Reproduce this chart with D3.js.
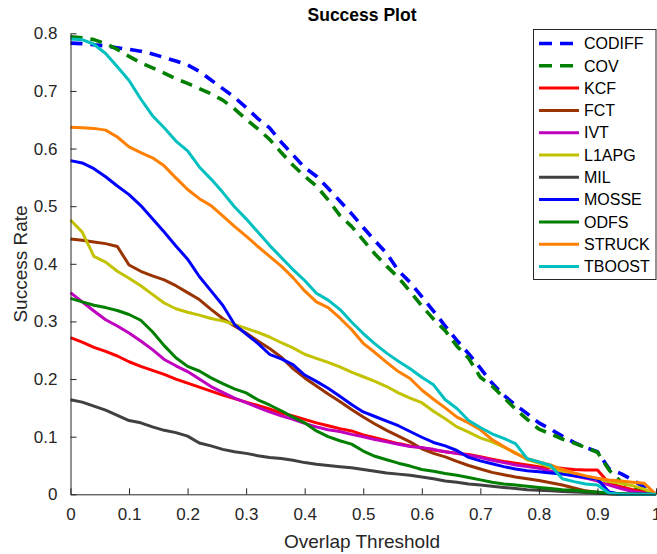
<!DOCTYPE html>
<html>
<head>
<meta charset="utf-8">
<script src="https://cdn.jsdelivr.net/npm/d3@7/dist/d3.min.js"></script>
<style>
  html, body { margin: 0; padding: 0; background: #fff; }
  svg { display: block; font-family: "Liberation Sans", Arial, Helvetica, sans-serif; }
</style>
</head>
<body>
<svg id="chart" width="657" height="554"></svg>
<script>
// Overlap thresholds on the x axis (0 to 1 in steps of 0.02)
const thresholds = d3.range(0, 51).map(i => i / 50);

const trackers = ["CODIFF", "COV", "KCF", "FCT", "IVT", "L1APG", "MIL", "MOSSE", "ODFS", "STRUCK", "TBOOST"];
const colors = ["#0000ff", "#007f00", "#ff0000", "#993300", "#bf00bf", "#c2c200", "#404040", "#0000ff", "#007f00", "#ff8000", "#00bfbf"];
const dashed = [true, true, false, false, false, false, false, false, false, false, false];

// Success rate of each tracker at every threshold
const CODIFF = [0.783,0.782,0.780,0.778,0.775,0.772,0.769,0.764,0.758,0.752,0.745,0.734,0.719,0.704,0.689,0.671,0.652,0.636,0.611,0.589,0.567,0.552,0.531,0.509,0.487,0.463,0.440,0.418,0.388,0.368,0.343,0.318,0.292,0.267,0.244,0.219,0.193,0.172,0.155,0.140,0.124,0.113,0.101,0.090,0.081,0.074,0.044,0.036,0.025,0.012,0.000];
const COV = [0.794,0.792,0.789,0.782,0.772,0.760,0.749,0.740,0.731,0.721,0.713,0.704,0.695,0.684,0.669,0.651,0.634,0.616,0.593,0.571,0.552,0.535,0.511,0.484,0.465,0.441,0.417,0.396,0.376,0.352,0.327,0.304,0.284,0.257,0.236,0.203,0.188,0.168,0.148,0.130,0.113,0.105,0.096,0.089,0.081,0.073,0.042,0.022,0.010,0.004,0.000];
const KCF = [0.272,0.264,0.255,0.248,0.240,0.230,0.222,0.215,0.208,0.200,0.193,0.186,0.179,0.172,0.166,0.160,0.154,0.148,0.141,0.136,0.130,0.124,0.119,0.114,0.110,0.103,0.098,0.093,0.088,0.084,0.081,0.077,0.074,0.071,0.069,0.065,0.061,0.057,0.054,0.051,0.048,0.046,0.045,0.043,0.042,0.042,0.019,0.013,0.008,0.004,0.000];
const FCT = [0.443,0.441,0.438,0.435,0.430,0.398,0.387,0.379,0.372,0.362,0.350,0.338,0.321,0.305,0.292,0.280,0.266,0.253,0.238,0.218,0.202,0.188,0.174,0.161,0.147,0.134,0.122,0.111,0.101,0.091,0.079,0.071,0.065,0.057,0.050,0.044,0.038,0.034,0.030,0.027,0.024,0.020,0.016,0.011,0.006,0.003,0.001,0.000,0.000,0.000,0.000];
const IVT = [0.350,0.334,0.318,0.303,0.292,0.280,0.266,0.251,0.234,0.223,0.213,0.200,0.187,0.177,0.167,0.159,0.151,0.143,0.136,0.130,0.123,0.117,0.112,0.109,0.104,0.100,0.095,0.091,0.087,0.083,0.081,0.078,0.074,0.071,0.068,0.064,0.059,0.055,0.051,0.048,0.045,0.040,0.036,0.032,0.028,0.023,0.016,0.010,0.005,0.002,0.000];
const L1APG = [0.476,0.455,0.413,0.403,0.387,0.375,0.362,0.347,0.332,0.322,0.316,0.311,0.305,0.301,0.295,0.288,0.281,0.273,0.263,0.254,0.243,0.236,0.229,0.221,0.212,0.204,0.196,0.187,0.176,0.167,0.159,0.144,0.131,0.117,0.108,0.098,0.091,0.082,0.072,0.060,0.054,0.047,0.040,0.034,0.030,0.026,0.022,0.019,0.015,0.009,0.000];
const MIL = [0.164,0.160,0.153,0.146,0.137,0.128,0.124,0.117,0.111,0.107,0.101,0.089,0.084,0.078,0.074,0.071,0.067,0.064,0.062,0.059,0.055,0.052,0.050,0.048,0.046,0.043,0.040,0.037,0.035,0.033,0.030,0.027,0.023,0.021,0.018,0.016,0.014,0.012,0.010,0.008,0.007,0.006,0.005,0.004,0.003,0.002,0.001,0.000,0.000,0.000,0.000];
const MOSSE = [0.579,0.575,0.565,0.551,0.535,0.520,0.501,0.478,0.455,0.431,0.408,0.378,0.353,0.328,0.295,0.278,0.262,0.243,0.235,0.225,0.207,0.196,0.184,0.170,0.156,0.143,0.135,0.127,0.119,0.109,0.099,0.090,0.084,0.076,0.064,0.058,0.053,0.048,0.044,0.041,0.039,0.037,0.035,0.032,0.029,0.026,0.004,0.000,0.000,0.000,0.000];
const ODFS = [0.340,0.334,0.328,0.324,0.319,0.312,0.302,0.282,0.258,0.237,0.222,0.214,0.202,0.192,0.183,0.176,0.164,0.155,0.145,0.134,0.124,0.110,0.100,0.093,0.087,0.075,0.066,0.060,0.054,0.049,0.043,0.040,0.036,0.033,0.029,0.025,0.021,0.018,0.016,0.014,0.012,0.010,0.008,0.007,0.005,0.004,0.002,0.001,0.000,0.000,0.000];
const STRUCK = [0.637,0.636,0.635,0.632,0.620,0.603,0.593,0.584,0.570,0.549,0.529,0.513,0.501,0.483,0.465,0.448,0.430,0.413,0.396,0.376,0.353,0.334,0.324,0.306,0.286,0.262,0.246,0.229,0.213,0.201,0.181,0.165,0.150,0.134,0.124,0.112,0.095,0.083,0.071,0.062,0.056,0.051,0.043,0.037,0.032,0.028,0.025,0.023,0.021,0.019,0.000];
const TBOOST = [0.790,0.789,0.781,0.765,0.742,0.718,0.686,0.657,0.636,0.613,0.596,0.568,0.547,0.524,0.499,0.478,0.455,0.432,0.411,0.390,0.371,0.349,0.337,0.321,0.299,0.279,0.261,0.245,0.231,0.218,0.203,0.190,0.164,0.149,0.128,0.116,0.105,0.097,0.088,0.062,0.056,0.050,0.027,0.022,0.018,0.016,0.002,0.000,0.000,0.000,0.000];

const seriesValues = [CODIFF, COV, KCF, FCT, IVT, L1APG, MIL, MOSSE, ODFS, STRUCK, TBOOST];

const xTicks = [0, 0.1, 0.2, 0.3, 0.4, 0.5, 0.6, 0.7, 0.8, 0.9, 1];
const yTicks = [0, 0.1, 0.2, 0.3, 0.4, 0.5, 0.6, 0.7, 0.8];
const xTickLabels = ["0", "0.1", "0.2", "0.3", "0.4", "0.5", "0.6", "0.7", "0.8", "0.9", "1"];
const yTickLabels = ["0", "0.1", "0.2", "0.3", "0.4", "0.5", "0.6", "0.7", "0.8"];

const svg = d3.select("#chart");
const axisColor = "#262626";

const x = d3.scaleLinear().domain([0, 1]).range([70.5, 656]);
const y = d3.scaleLinear().domain([0, 0.8]).range([494.3, 33.3]);

// Curves
const line = d3.line().x(d => x(d[0])).y(d => y(d[1]));
const curves = svg.append("g");
seriesValues.forEach((vals, i) => {
  curves.append("path")
    .datum(thresholds.map((t, j) => [t, vals[j]]))
    .attr("d", line)
    .attr("fill", "none")
    .attr("stroke", colors[i])
    .attr("stroke-width", dashed[i] ? 3.6 : 3)
    .attr("stroke-linejoin", "round")
    .attr("stroke-dasharray", dashed[i] ? "12,8" : null);
});

// Axes with inward ticks
const xAxis = d3.axisBottom(x).tickValues(xTicks)
  .tickFormat((d, i) => xTickLabels[i]).tickSizeInner(-6).tickSizeOuter(0).tickPadding(14);
const yAxis = d3.axisLeft(y).tickValues(yTicks)
  .tickFormat((d, i) => yTickLabels[i]).tickSizeInner(-6).tickSizeOuter(0).tickPadding(13);

const gx = svg.append("g").attr("transform", `translate(0,${y(0)})`).call(xAxis);
const gy = svg.append("g").attr("transform", `translate(${x(0)},0)`).call(yAxis);
[gx, gy].forEach(g => {
  g.select(".domain").attr("stroke", axisColor).attr("stroke-width", 1);
  g.selectAll(".tick line").attr("stroke", axisColor).attr("stroke-width", 1);
  g.selectAll(".tick text").attr("fill", axisColor).attr("font-size", 17)
    .attr("font-family", "Liberation Sans, Arial, sans-serif");
});

// Title and axis labels
svg.append("text").attr("x", 362).attr("y", 21).attr("text-anchor", "middle")
  .attr("font-size", 17.5).attr("font-weight", "bold").attr("fill", "#000").text("Success Plot");
svg.append("text").attr("x", 362).attr("y", 548).attr("text-anchor", "middle")
  .attr("font-size", 19).attr("fill", axisColor).text("Overlap Threshold");
svg.append("text").attr("transform", "translate(27,264) rotate(-90)").attr("text-anchor", "middle")
  .attr("font-size", 19).attr("fill", axisColor).text("Success Rate");

// Legend
const legend = svg.append("g");
legend.append("rect").attr("x", 533.5).attr("y", 29.5).attr("width", 122.5).attr("height", 250)
  .attr("fill", "#fff").attr("stroke", axisColor).attr("stroke-width", 1);
trackers.forEach((name, i) => {
  const ly = 43.5 + i * 22.3;
  legend.append("line").attr("x1", 539).attr("x2", 579).attr("y1", ly).attr("y2", ly)
    .attr("stroke", colors[i]).attr("stroke-width", dashed[i] ? 3.6 : 3)
    .attr("stroke-dasharray", dashed[i] ? "13,8" : null);
  legend.append("text").attr("x", 584).attr("y", ly).attr("dy", "0.36em")
    .attr("font-size", 16).attr("fill", "#000").text(name);
});
</script>
</body>
</html>
